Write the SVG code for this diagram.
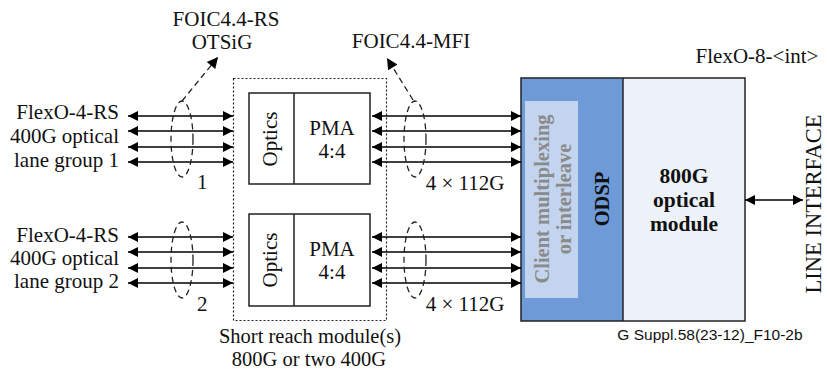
<svg xmlns="http://www.w3.org/2000/svg" width="827" height="372" viewBox="0 0 827 372">
<style>
.t{font-family:"Liberation Serif","Times New Roman",serif;font-size:21px;fill:#111}
.tb{font-family:"Liberation Serif","Times New Roman",serif;font-weight:bold;fill:#111}
.s{font-family:"Liberation Sans",Arial,sans-serif;font-size:15.5px;fill:#111}
.ln{stroke:#000;stroke-width:1.5;fill:none;marker-start:url(#ah);marker-end:url(#ah)}
.el{stroke:#222;stroke-width:1.3;fill:none;stroke-dasharray:6 4}
.da{stroke:#222;stroke-width:1.3;fill:none;stroke-dasharray:6 4;marker-end:url(#ah2)}
.box{stroke:#222;stroke-width:1.5;fill:#fff}
</style>
<defs>
<marker id="ah" viewBox="0 0 10 10" refX="10" refY="5" markerWidth="12" markerHeight="10" markerUnits="userSpaceOnUse" orient="auto-start-reverse"><path d="M0,0 L10,5 L0,10 z" fill="#000"/></marker>
<marker id="ah2" viewBox="0 0 10 10" refX="10" refY="5" markerWidth="13" markerHeight="11" markerUnits="userSpaceOnUse" orient="auto"><path d="M0,0 L10,5 L0,10 z" fill="#000"/></marker>
</defs>
<rect width="827" height="372" fill="#fff"/>

<g id="labels-left">
<text class="t" x="119" y="119" text-anchor="end">FlexO-4-RS</text>
<text class="t" x="119" y="143" text-anchor="end">400G optical</text>
<text class="t" x="119" y="167" text-anchor="end">lane group 1</text>
<text class="t" x="119" y="242" text-anchor="end">FlexO-4-RS</text>
<text class="t" x="119" y="265" text-anchor="end">400G optical</text>
<text class="t" x="119" y="288" text-anchor="end">lane group 2</text>
<text class="t" x="197" y="189">1</text>
<text class="t" x="197" y="311">2</text>
<text class="t" x="226" y="26" text-anchor="middle">FOIC4.4-RS</text>
<text class="t" x="222" y="49" text-anchor="middle">OTSiG</text>
<text class="t" x="411" y="48" text-anchor="middle">FOIC4.4-MFI</text>
<text class="t" x="465" y="190" text-anchor="middle">4 × 112G</text>
<text class="t" x="465" y="311" text-anchor="middle">4 × 112G</text>
<text class="t" x="757" y="63" text-anchor="middle">FlexO-8-&lt;int&gt;</text>
<text class="t" x="821" y="204" text-anchor="middle" transform="rotate(-90 821 204)" style="font-size:22.5px">LINE INTERFACE</text>
<text class="s" x="710" y="340" text-anchor="middle">G Suppl.58(23-12)_F10-2b</text>
</g>

<g id="srm">
<rect x="233.5" y="78.5" width="153" height="242" fill="none" stroke="#222" stroke-width="1.2" stroke-dasharray="2 2"/>
<text class="t" x="310" y="343" text-anchor="middle" style="font-size:20.5px">Short reach module(s)</text>
<text class="t" x="309" y="366" text-anchor="middle" style="font-size:20.5px">800G or two 400G</text>
</g>

<g id="module1">
<rect class="box" x="249" y="93" width="121" height="91"/>
<line x1="294" y1="93" x2="294" y2="184" stroke="#222" stroke-width="1.5"/>
<text class="t" x="277" y="139" text-anchor="middle" transform="rotate(-90 277 139)">Optics</text>
<text class="t" x="332" y="135" text-anchor="middle">PMA</text>
<text class="t" x="332" y="158" text-anchor="middle">4:4</text>
</g>

<g id="module2">
<rect class="box" x="249" y="214" width="121" height="92"/>
<line x1="294" y1="214" x2="294" y2="306" stroke="#222" stroke-width="1.5"/>
<text class="t" x="277" y="260" text-anchor="middle" transform="rotate(-90 277 260)">Optics</text>
<text class="t" x="332" y="256" text-anchor="middle">PMA</text>
<text class="t" x="332" y="279" text-anchor="middle">4:4</text>
</g>

<g id="odsp-module">
<rect x="521" y="78" width="102" height="243" fill="#6e9bd8"/>
<rect x="623" y="78" width="122" height="243" fill="#edf1f8"/>
<rect x="525" y="101" width="53" height="197" fill="#c2d4ee"/>
<rect x="521" y="78" width="224" height="243" fill="none" stroke="#222" stroke-width="1.5"/>
<line x1="623" y1="78" x2="623" y2="321" stroke="#222" stroke-width="1.5"/>
<text class="tb" x="549" y="199" text-anchor="middle" transform="rotate(-90 549 199)" style="font-size:20.5px;fill:#8a8a8a">Client multiplexing</text>
<text class="tb" x="571" y="199" text-anchor="middle" transform="rotate(-90 571 199)" style="font-size:20.5px;fill:#8a8a8a">or interleave</text>
<text class="tb" x="609" y="199" text-anchor="middle" transform="rotate(-90 609 199)" style="font-size:20.5px">ODSP</text>
<text class="tb" x="684" y="183" text-anchor="middle" style="font-size:21.5px">800G</text>
<text class="tb" x="684" y="207" text-anchor="middle" style="font-size:21.5px">optical</text>
<text class="tb" x="684" y="231" text-anchor="middle" style="font-size:21.5px">module</text>
</g>

<g id="connectors">
<line class="ln" x1="128" y1="116" x2="233" y2="116"/>
<line class="ln" x1="128" y1="131" x2="233" y2="131"/>
<line class="ln" x1="128" y1="147" x2="233" y2="147"/>
<line class="ln" x1="128" y1="162" x2="233" y2="162"/>
<line class="ln" x1="128" y1="237" x2="233" y2="237"/>
<line class="ln" x1="128" y1="252" x2="233" y2="252"/>
<line class="ln" x1="128" y1="268" x2="233" y2="268"/>
<line class="ln" x1="128" y1="283" x2="233" y2="283"/>
<line class="ln" x1="372" y1="116" x2="521" y2="116"/>
<line class="ln" x1="372" y1="131" x2="521" y2="131"/>
<line class="ln" x1="372" y1="147" x2="521" y2="147"/>
<line class="ln" x1="372" y1="162" x2="521" y2="162"/>
<line class="ln" x1="372" y1="237" x2="521" y2="237"/>
<line class="ln" x1="372" y1="252" x2="521" y2="252"/>
<line class="ln" x1="372" y1="268" x2="521" y2="268"/>
<line class="ln" x1="372" y1="283" x2="521" y2="283"/>
<line class="ln" x1="745" y1="200" x2="803" y2="200"/>
<ellipse class="el" cx="182" cy="139" rx="11" ry="38"/>
<ellipse class="el" cx="182" cy="260" rx="11" ry="38"/>
<ellipse class="el" cx="415" cy="139" rx="11" ry="38"/>
<ellipse class="el" cx="415" cy="260" rx="11" ry="38"/>
<line class="da" x1="182" y1="101" x2="218" y2="57"/>
<line class="da" x1="413" y1="100" x2="387" y2="58"/>
</g>
</svg>
